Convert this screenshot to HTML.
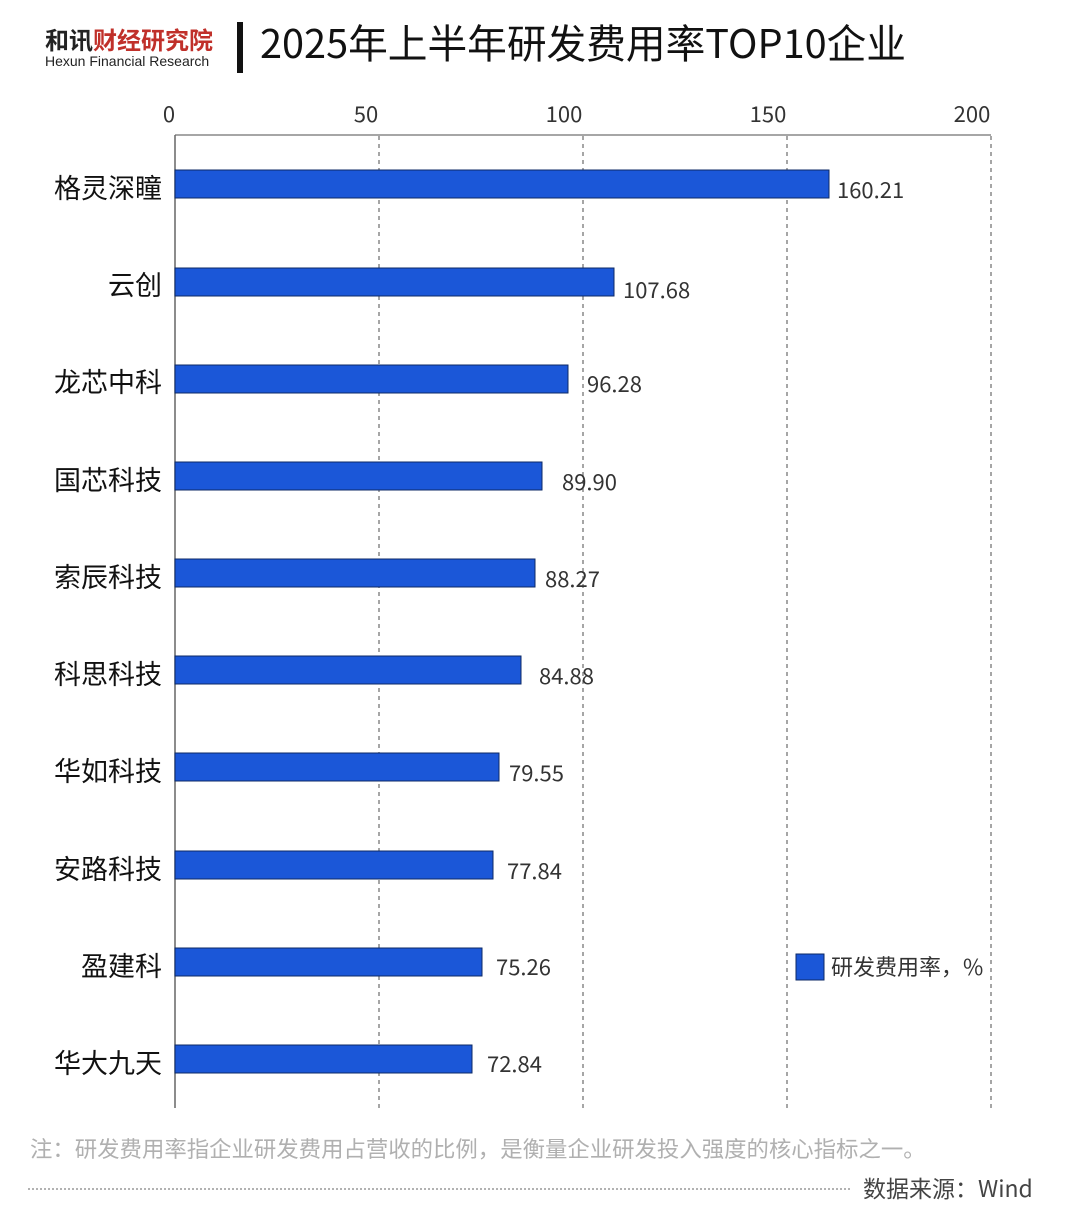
<!DOCTYPE html>
<html><head><meta charset="utf-8"><style>
body{margin:0;background:#fff;}
svg{display:block;font-family:"Liberation Sans","Noto Sans CJK SC",sans-serif;}
</style></head><body>
<svg width="1080" height="1231" viewBox="0 0 1080 1231" xmlns="http://www.w3.org/2000/svg">
<text x="45" y="49" font-size="24" font-weight="bold" fill="#222" font-family="Noto Sans CJK SC,sans-serif">和讯<tspan fill="#c0302a">财经研究院</tspan></text>
<text x="45" y="66" font-size="14" fill="#222">Hexun Financial Research</text>
<rect x="237" y="22" width="6" height="51" fill="#111"/>
<text x="260" y="58" font-size="39.7" fill="#111" font-family="Noto Sans CJK SC,sans-serif">2025年上半年研发费用率TOP10企业</text>
<g font-size="22" fill="#333" text-anchor="middle" font-family="Noto Sans CJK SC,sans-serif">
<text x="169" y="122">0</text><text x="366" y="122">50</text><text x="564" y="122">100</text><text x="768" y="122">150</text><text x="972" y="122">200</text>
</g>
<line x1="175" y1="135" x2="991" y2="135" stroke="#888" stroke-width="1.5"/>
<g stroke="#777" stroke-width="1.3" stroke-dasharray="4,4">
<line x1="379" y1="136" x2="379" y2="1108"/><line x1="583" y1="136" x2="583" y2="1108"/><line x1="787" y1="136" x2="787" y2="1108"/><line x1="991" y1="136" x2="991" y2="1108"/>
</g>
<line x1="175" y1="135" x2="175" y2="1108" stroke="#666" stroke-width="1.5"/>
<g fill="#1b57d8" stroke="#0d2a66" stroke-width="1">
<rect x="175" y="170" width="654" height="28"/>
<rect x="175" y="268" width="439" height="28"/>
<rect x="175" y="365" width="393" height="28"/>
<rect x="175" y="462" width="367" height="28"/>
<rect x="175" y="559" width="360" height="28"/>
<rect x="175" y="656" width="346" height="28"/>
<rect x="175" y="753" width="324" height="28"/>
<rect x="175" y="851" width="318" height="28"/>
<rect x="175" y="948" width="307" height="28"/>
<rect x="175" y="1045" width="297" height="28"/>
</g>
<g font-size="22" fill="#333" font-family="Noto Sans CJK SC,sans-serif">
<text x="837" y="198">160.21</text>
<text x="623" y="298">107.68</text>
<text x="587" y="392">96.28</text>
<text x="562" y="490">89.90</text>
<text x="545" y="587">88.27</text>
<text x="539" y="684">84.88</text>
<text x="509" y="781">79.55</text>
<text x="507" y="879">77.84</text>
<text x="496" y="975">75.26</text>
<text x="487" y="1072">72.84</text>
</g>
<g font-size="27" fill="#111" text-anchor="end" font-family="Noto Sans CJK SC,sans-serif">
<text x="162" y="198">格灵深瞳</text>
<text x="162" y="295">云创</text>
<text x="162" y="392">龙芯中科</text>
<text x="162" y="490">国芯科技</text>
<text x="162" y="587">索辰科技</text>
<text x="162" y="684">科思科技</text>
<text x="162" y="781">华如科技</text>
<text x="162" y="879">安路科技</text>
<text x="162" y="976">盈建科</text>
<text x="162" y="1073">华大九天</text>
</g>
<rect x="796" y="954" width="28" height="26" fill="#1b57d8" stroke="#0d2a66"/>
<text x="831" y="975" font-size="22" fill="#333" font-family="Noto Sans CJK SC,sans-serif">研发费用率，%</text>
<text x="30" y="1157" font-size="22.4" fill="#b0b0b0" font-family="Noto Sans CJK SC,sans-serif">注：研发费用率指企业研发费用占营收的比例，是衡量企业研发投入强度的核心指标之一。</text>
<line x1="28" y1="1189" x2="850" y2="1189" stroke="#666" stroke-width="1" stroke-dasharray="2,2"/>
<text x="863" y="1197" font-size="23" fill="#444" font-family="Noto Sans CJK SC,sans-serif">数据来源：Wind</text>
</svg>
</body></html>
